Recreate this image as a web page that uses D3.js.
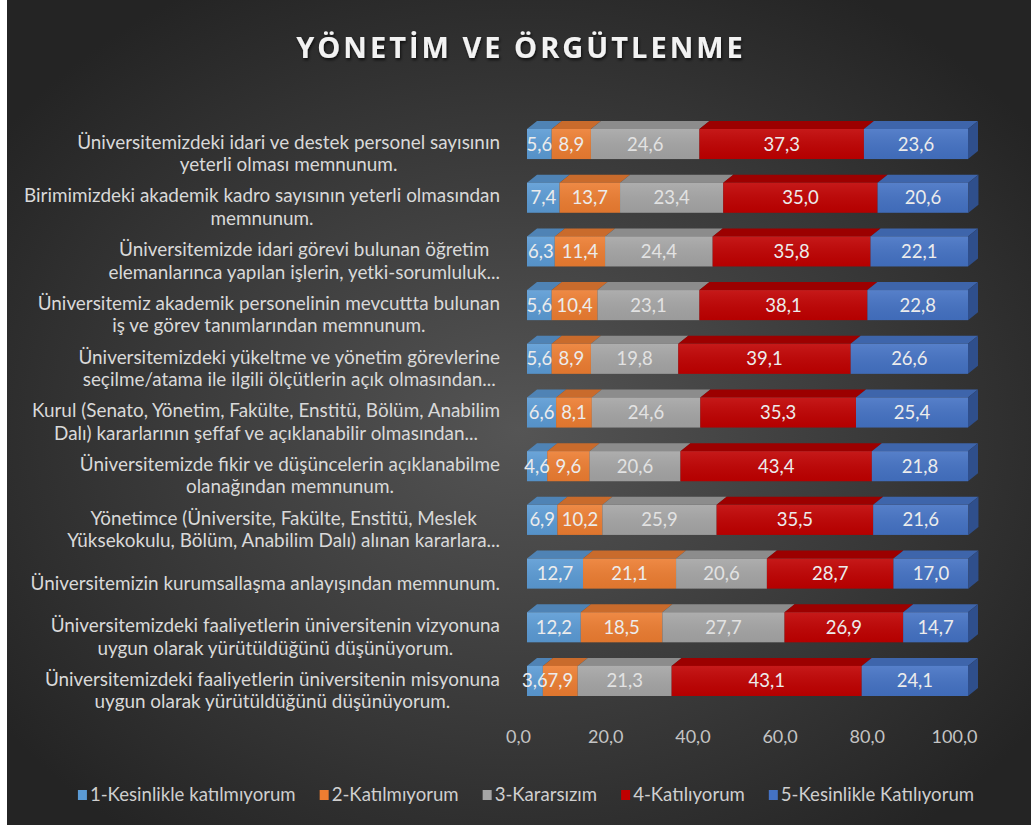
<!DOCTYPE html>
<html><head><meta charset="utf-8">
<script src="https://cdn.jsdelivr.net/npm/d3@7"></script>
<style>html,body{margin:0;padding:0;background:#fff;} svg{display:block}</style>
</head><body>
<svg id="c" width="1031" height="825"></svg>
<script>
const title = "YÖNETİM VE ÖRGÜTLENME";
const categories = [
  "Üniversitemizdeki idari ve destek personel sayısının\nyeterli olması memnunum.",
  "Birimimizdeki akademik kadro sayısının yeterli olmasından\nmemnunum.",
  "Üniversitemizde idari görevi bulunan öğretim\nelemanlarınca yapılan işlerin, yetki-sorumluluk...",
  "Üniversitemiz akademik personelinin mevcuttta bulunan\niş ve görev tanımlarından memnunum.",
  "Üniversitemizdeki yükeltme ve yönetim görevlerine\nseçilme/atama ile ilgili ölçütlerin açık olmasından...",
  "Kurul (Senato, Yönetim, Fakülte, Enstitü, Bölüm, Anabilim\nDalı) kararlarının şeffaf ve açıklanabilir olmasından...",
  "Üniversitemizde fikir ve düşüncelerin açıklanabilme\nolanağından memnunum.",
  "Yönetimce (Üniversite, Fakülte, Enstitü, Meslek\nYüksekokulu, Bölüm, Anabilim Dalı) alınan kararlara...",
  "Üniversitemizin kurumsallaşma anlayışından memnunum.",
  "Üniversitemizdeki faaliyetlerin üniversitenin vizyonuna\nuygun olarak yürütüldüğünü düşünüyorum.",
  "Üniversitemizdeki faaliyetlerin üniversitenin misyonuna\nuygun olarak yürütüldüğünü düşünüyorum."
];
const seriesNames = ["1-Kesinlikle katılmıyorum", "2-Katılmıyorum", "3-Kararsızım", "4-Katılıyorum", "5-Kesinlikle Katılıyorum"];
const s1 = [5.6, 7.4, 6.3, 5.6, 5.6, 6.6, 4.6, 6.9, 12.7, 12.2, 3.6];
const s2 = [8.9, 13.7, 11.4, 10.4, 8.9, 8.1, 9.6, 10.2, 21.1, 18.5, 7.9];
const s3 = [24.6, 23.4, 24.4, 23.1, 19.8, 24.6, 20.6, 25.9, 20.6, 27.7, 21.3];
const s4 = [37.3, 35.0, 35.8, 38.1, 39.1, 35.3, 43.4, 35.5, 28.7, 26.9, 43.1];
const s5 = [23.6, 20.6, 22.1, 22.8, 26.6, 25.4, 21.8, 21.6, 17.0, 14.7, 24.1];
const xTicks = [0, 20, 40, 60, 80, 100];

const seriesValues = [s1, s2, s3, s4, s5];
const frontColors = ["#5B9BD5", "#ED7D31", "#A5A5A5", "#C00000", "#4472C4"];
const topColors = ["#4f83b5", "#c96b2c", "#8c8c8c", "#9c0000", "#3e65ab"];
const sideColor = "#2f4f8c";
const FONT = "Lato, 'Open Sans', sans-serif";

const svg = d3.select("#c");
const W = 1031, H = 825;
const defs = svg.append("defs");
const bg = defs.append("radialGradient").attr("id", "bg")
  .attr("cx", "50%").attr("cy", "52%").attr("r", "62%");
bg.append("stop").attr("offset", "0%").attr("stop-color", "#555555");
bg.append("stop").attr("offset", "100%").attr("stop-color", "#242424");
const sh = defs.append("filter").attr("id", "tsh").attr("x", "-10%").attr("y", "-30%").attr("width", "120%").attr("height", "160%");
sh.append("feDropShadow").attr("dx", 1).attr("dy", 2).attr("stdDeviation", 1.5).attr("flood-color", "#000").attr("flood-opacity", 0.7);
const gl = defs.append("linearGradient").attr("id", "gloss").attr("x1", 0).attr("y1", 0).attr("x2", 0).attr("y2", 1);
gl.append("stop").attr("offset", "0%").attr("stop-color", "#fff").attr("stop-opacity", 0.10);
gl.append("stop").attr("offset", "100%").attr("stop-color", "#000").attr("stop-opacity", 0.06);

svg.append("rect").attr("width", W).attr("height", H).attr("fill", "#ffffff");
svg.append("rect").attr("x", 7).attr("y", 0).attr("width", W - 7).attr("height", H).attr("fill", "url(#bg)");

// Title
svg.append("text").attr("x", 521).attr("y", 58).attr("text-anchor", "middle")
  .attr("font-family", "'Open Sans', sans-serif").attr("font-weight", 700).attr("font-size", 29)
  .attr("letter-spacing", 3).attr("fill", "#f2f2f2").attr("filter", "url(#tsh)").text(title);

// Scales
const x = d3.scaleLinear().domain([0, 100]).range([527, 968]);
const xFloor = d3.scaleLinear().domain([0, 100]).range([518, 954]);
const y = d3.scaleBand().domain(categories).range([129, 696]).paddingInner(0.44).paddingOuter(0);
const dx = 10, dy = 8;

// Stack
const rows = categories.map((c, i) => {
  let acc = 0;
  return seriesValues.map((s, k) => { const x0 = acc; acc += s[i]; return {cat: c, k, v: s[i], x0, x1: acc}; });
});

const gBars = svg.append("g");
rows.forEach(row => {
  const g = gBars.append("g");
  const yt = y(row[0].cat), bh = y.bandwidth();
  row.forEach(d => {
    const a = x(d.x0), b = x(d.x1);
    g.append("path").attr("d", `M${a},${yt}L${a + dx},${yt - dy}L${b + dx},${yt - dy}L${b},${yt}Z`).attr("fill", topColors[d.k]);
    g.append("rect").attr("x", a).attr("y", yt).attr("width", b - a).attr("height", bh).attr("fill", frontColors[d.k]);
    g.append("rect").attr("x", a).attr("y", yt).attr("width", b - a).attr("height", bh).attr("fill", "url(#gloss)");
  });
  const last = row[row.length - 1];
  const b = x(last.x1);
  g.append("path").attr("d", `M${b},${yt}L${b + dx},${yt - dy}L${b + dx},${yt + bh - dy}L${b},${yt + bh}Z`).attr("fill", sideColor);
  row.forEach(d => {
    g.append("text").attr("x", (x(d.x0) + x(d.x1)) / 2).attr("y", yt + bh / 2 + 6.5)
      .attr("text-anchor", "middle").attr("font-family", FONT).attr("font-size", 18.5)
      .attr("fill", d.k === 2 ? "#e2e2e2" : "#ececec").text(d.v.toFixed(1).replace(".", ","));
  });
});

// Category labels
const gCat = svg.append("g");
categories.forEach(c => {
  const lines = c.split("\n");
  const cy = y(c) + y.bandwidth() / 2 + 16;
  const ts = lines.map((l, k) => gCat.append("text").attr("font-family", FONT).attr("font-size", 18.9)
    .attr("fill", "#d9d9d9").attr("text-anchor", "middle")
    .attr("y", cy + (k - (lines.length - 1) / 2) * 22.5).text(l));
  const maxW = d3.max(ts, t => t.node().getComputedTextLength());
  ts.forEach(t => t.attr("x", 500 - maxW / 2));
});

// X axis labels
const ax = svg.append("g").attr("transform", "translate(0,730)")
  .call(d3.axisBottom(xFloor).tickValues(xTicks).tickSize(0).tickPadding(0)
    .tickFormat(d => d.toFixed(1).replace(".", ",")));
ax.select(".domain").remove();
ax.selectAll("text").attr("font-family", FONT).attr("font-size", 18).attr("fill", "#c4c4c4");

// Legend
const gLeg = svg.append("g");
let cx = 0;
seriesNames.forEach((n, k) => {
  const it = gLeg.append("g");
  it.append("rect").attr("x", 0).attr("y", -11).attr("width", 9).attr("height", 10).attr("fill", frontColors[k]);
  const t = it.append("text").attr("x", 12).attr("y", 0).attr("font-family", FONT).attr("font-size", 18.6)
    .attr("fill", "#cfcfcf").text(n);
  const w = 12 + t.node().getComputedTextLength();
  it.attr("transform", `translate(${cx},0)`);
  cx += w + 24;
});
const total = cx - 24;
gLeg.attr("transform", `translate(${526 - total / 2},801)`);
</script>
</body></html>
